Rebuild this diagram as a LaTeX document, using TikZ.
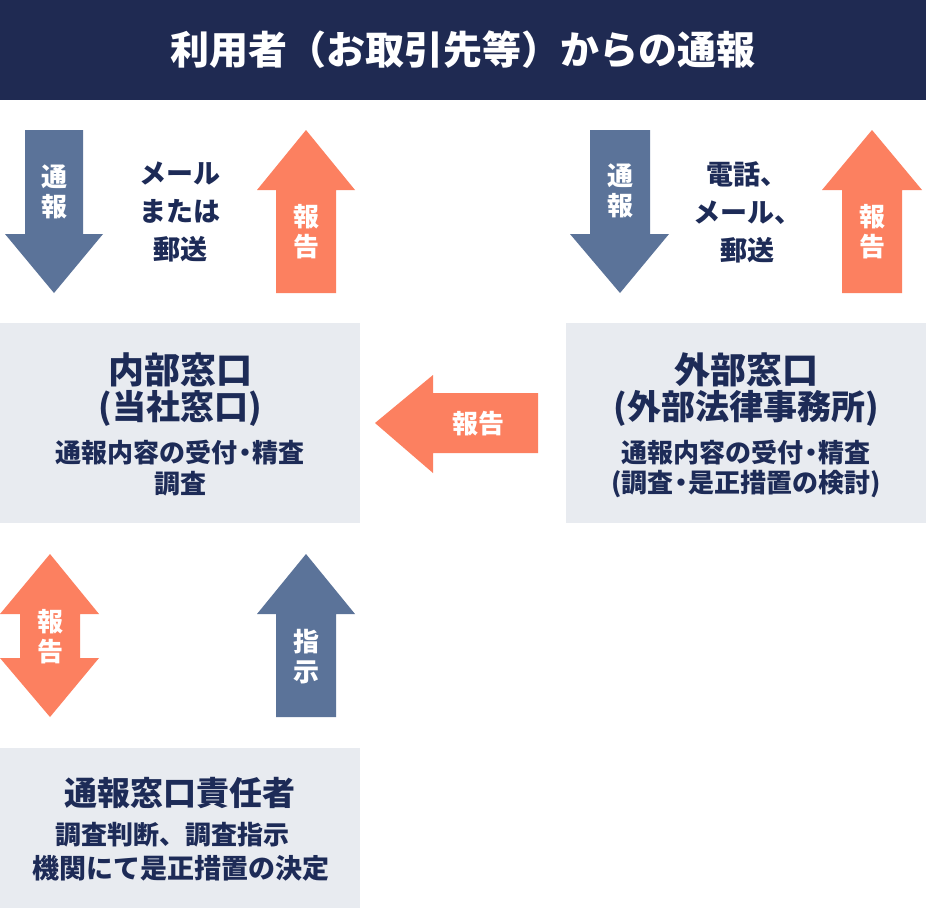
\documentclass[tikz,border=0pt]{standalone}
\usepackage{fontspec}
\setmainfont{Noto Sans CJK JP}
\definecolor{navy}{HTML}{1F2A52}
\definecolor{txtnavy}{HTML}{1D2B57}
\definecolor{steel}{HTML}{5B7399}
\definecolor{coral}{HTML}{FC8060}
\definecolor{boxgray}{HTML}{E8EBF0}
\newcommand{\ndot}{\hspace{-0.22em}・\hspace{-0.22em}}
\tikzset{
  arrowtxt/.style={text=white, align=center, inner sep=0pt, font=\bfseries\fontsize{26}{30}\selectfont},
  midtxt/.style={text=txtnavy, align=center, inner sep=0pt, font=\bfseries\fontsize{27}{38}\selectfont},
  boxtitle/.style={text=txtnavy, inner sep=0pt, font=\bfseries\fontsize{36}{36}\selectfont},
  boxsub/.style={text=txtnavy, inner sep=0pt, font=\bfseries\fontsize{34}{34}\selectfont},
  boxdesc/.style={text=txtnavy, inner sep=0pt, font=\bfseries\fontsize{26}{26}\selectfont},
}
\begin{document}
\begin{tikzpicture}[x=1pt,y=-1pt]
\useasboundingbox (0,0) rectangle (926,908);
\fill[white] (0,0) rectangle (926,908);
% banner
\fill[navy] (0,0) rectangle (926,100);
\node[text=white, inner sep=0pt, font=\bfseries\fontsize{39}{39}\selectfont] (title) at (463,50) {利用者（お取引先等）からの通報};

% top-left down arrow
\fill[steel] (25,130) -- (83,130) -- (83,234) -- (103,234) -- (54,293) -- (5,234) -- (25,234) -- cycle;
\node[arrowtxt] (tl1) at (54,192) {通\\報};
\node[midtxt] (tlmid) at (180,212) {メール\\または\\郵送};
% top-left up arrow
\fill[coral] (306,130) -- (355,190) -- (336,190) -- (336,293) -- (276,293) -- (276,190) -- (257,190) -- cycle;
\node[arrowtxt] (tl2) at (306,232) {報\\告};

% top-right down arrow
\fill[steel] (590,130) -- (650,130) -- (650,234) -- (669,234) -- (620,293) -- (570,234) -- (590,234) -- cycle;
\node[arrowtxt] (tr1) at (620,191) {通\\報};
\node[midtxt] (trmid) at (747,212) {電話、\\メール、\\郵送};
% top-right up arrow
\fill[coral] (872,130) -- (922,190) -- (902,190) -- (902,293) -- (842,293) -- (842,190) -- (822,190) -- cycle;
\node[arrowtxt] (tr2) at (872,232) {報\\告};

% internal box
\fill[boxgray] (0,323) rectangle (360,523);
\node[boxtitle] (in1) at (180,370) {内部窓口};
\node[boxsub] (in2) at (180,408) {(当社窓口)};
\node[boxdesc] (in3) at (180,453) {通報内容の受付\ndot 精査};
\node[boxdesc] (in4) at (180,484) {調査};

% external box
\fill[boxgray] (566,323) rectangle (926,523);
\node[boxtitle] (ex1) at (746,370) {外部窓口};
\node[boxsub] (ex2) at (746,408) {(外部法律事務所)};
\node[boxdesc] (ex3) at (746,453) {通報内容の受付\ndot 精査};
\node[boxdesc] (ex4) at (746,484) {(調査\ndot 是正措置の検討)};

% left arrow between boxes
\fill[coral] (375,423) -- (433,375) -- (433,393) -- (538,393) -- (538,453) -- (433,453) -- (433,473) -- cycle;
\node[arrowtxt] (mid) at (478,424) {報告};

% double arrow
\fill[coral] (50,554) -- (99,614) -- (80,614) -- (80,658) -- (99,658) -- (50,717) -- (0,658) -- (20,658) -- (20,614) -- (0,614) -- cycle;
\node[arrowtxt] (bl) at (50,637) {報\\告};
% up arrow 指示
\fill[steel] (306,554) -- (355,614) -- (336,614) -- (336,717) -- (276,717) -- (276,614) -- (257,614) -- cycle;
\node[arrowtxt] (br) at (306,657) {指\\示};

% bottom box
\fill[boxgray] (0,748) rectangle (360,908);
\node[boxtitle, font=\bfseries\fontsize{33}{33}\selectfont] (bt1) at (180,793) {通報窓口責任者};
\node[boxdesc] (bt2) at (172,835) {調査判断、調査指示};
\node[boxdesc, font=\bfseries\fontsize{27}{27}\selectfont] (bt3) at (181,868) {機関にて是正措置の決定};
\end{tikzpicture}
\end{document}
